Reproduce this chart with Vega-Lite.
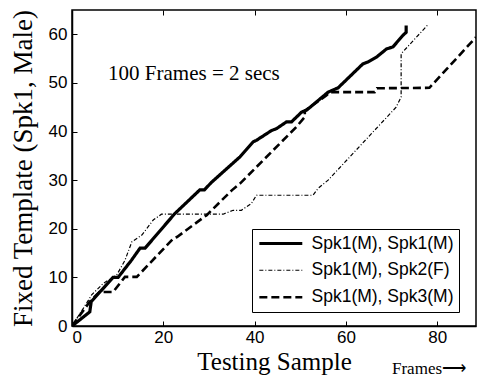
{
  "$schema": "https://vega.github.io/schema/vega-lite/v6.json",
  "width": 404,
  "height": 316,
  "autosize": {"type": "none"},
  "padding": {"left": 72, "top": 10, "right": 1, "bottom": 54},
  "background": "white",
  "config": {
    "view": {"stroke": "black", "strokeWidth": 1.5},
    "axis": {
      "domainColor": "black", "domainWidth": 1.5, "tickColor": "black", "tickSize": -5, "tickWidth": 1,
      "labelFont": "Liberation Sans", "labelFontSize": 17, "labelColor": "black",
      "titleFont": "Liberation Serif", "titleFontSize": 25, "titleFontWeight": "normal", "titleColor": "black",
      "grid": false
    },
    "legend": {
      "title": null, "orient": "none", "legendX": 180, "legendY": 219,
      "symbolType": "M-1,0L5,0", "symbolSize": 205, "symbolStrokeColor": "black", "symbolFillColor": "transparent",
      "labelFont": "Liberation Sans", "labelFontSize": 17.5, "labelColor": "black",
      "strokeColor": "black", "fillColor": "white", "padding": 5.5, "labelOffset": 36, "rowPadding": 8
    }
  },
  "datasets": {
    "curves": [
      {"s": "Spk1(M), Spk1(M)", "x": 0, "y": 0},
      {"s": "Spk1(M), Spk1(M)", "x": 3.9, "y": 2.9},
      {"s": "Spk1(M), Spk1(M)", "x": 4.2, "y": 5},
      {"s": "Spk1(M), Spk1(M)", "x": 9, "y": 10},
      {"s": "Spk1(M), Spk1(M)", "x": 10.1, "y": 10},
      {"s": "Spk1(M), Spk1(M)", "x": 13, "y": 13.5},
      {"s": "Spk1(M), Spk1(M)", "x": 14.9, "y": 16},
      {"s": "Spk1(M), Spk1(M)", "x": 16, "y": 16},
      {"s": "Spk1(M), Spk1(M)", "x": 22.5, "y": 23.1},
      {"s": "Spk1(M), Spk1(M)", "x": 28, "y": 28},
      {"s": "Spk1(M), Spk1(M)", "x": 29, "y": 28},
      {"s": "Spk1(M), Spk1(M)", "x": 30.5, "y": 29.5},
      {"s": "Spk1(M), Spk1(M)", "x": 36.8, "y": 34.8},
      {"s": "Spk1(M), Spk1(M)", "x": 39.7, "y": 37.9},
      {"s": "Spk1(M), Spk1(M)", "x": 40.4, "y": 38.2},
      {"s": "Spk1(M), Spk1(M)", "x": 43.7, "y": 40.2},
      {"s": "Spk1(M), Spk1(M)", "x": 44.8, "y": 40.6},
      {"s": "Spk1(M), Spk1(M)", "x": 47, "y": 42},
      {"s": "Spk1(M), Spk1(M)", "x": 48.1, "y": 42},
      {"s": "Spk1(M), Spk1(M)", "x": 50.3, "y": 44},
      {"s": "Spk1(M), Spk1(M)", "x": 51.4, "y": 44.4},
      {"s": "Spk1(M), Spk1(M)", "x": 56.1, "y": 48.1},
      {"s": "Spk1(M), Spk1(M)", "x": 58.3, "y": 49},
      {"s": "Spk1(M), Spk1(M)", "x": 63.7, "y": 53.9},
      {"s": "Spk1(M), Spk1(M)", "x": 64.8, "y": 54.3},
      {"s": "Spk1(M), Spk1(M)", "x": 66.7, "y": 55.3},
      {"s": "Spk1(M), Spk1(M)", "x": 68.9, "y": 57},
      {"s": "Spk1(M), Spk1(M)", "x": 70.3, "y": 57.4},
      {"s": "Spk1(M), Spk1(M)", "x": 72.5, "y": 59.8},
      {"s": "Spk1(M), Spk1(M)", "x": 73.2, "y": 60.4},
      {"s": "Spk1(M), Spk1(M)", "x": 73.2, "y": 61.8},
      {"s": "Spk1(M), Spk2(F)", "x": 0, "y": 0},
      {"s": "Spk1(M), Spk2(F)", "x": 3.2, "y": 4.7},
      {"s": "Spk1(M), Spk2(F)", "x": 4.3, "y": 6.4},
      {"s": "Spk1(M), Spk2(F)", "x": 6.9, "y": 8.8},
      {"s": "Spk1(M), Spk2(F)", "x": 9.8, "y": 10.5},
      {"s": "Spk1(M), Spk2(F)", "x": 11.6, "y": 13.5},
      {"s": "Spk1(M), Spk2(F)", "x": 13.1, "y": 17.3},
      {"s": "Spk1(M), Spk2(F)", "x": 15.3, "y": 18.7},
      {"s": "Spk1(M), Spk2(F)", "x": 17.8, "y": 21.8},
      {"s": "Spk1(M), Spk2(F)", "x": 19.6, "y": 23},
      {"s": "Spk1(M), Spk2(F)", "x": 33.1, "y": 23},
      {"s": "Spk1(M), Spk2(F)", "x": 35.3, "y": 23.8},
      {"s": "Spk1(M), Spk2(F)", "x": 37.1, "y": 23.8},
      {"s": "Spk1(M), Spk2(F)", "x": 39.3, "y": 25.2},
      {"s": "Spk1(M), Spk2(F)", "x": 40.4, "y": 26.9},
      {"s": "Spk1(M), Spk2(F)", "x": 52.8, "y": 26.9},
      {"s": "Spk1(M), Spk2(F)", "x": 53.9, "y": 28.3},
      {"s": "Spk1(M), Spk2(F)", "x": 56.1, "y": 30},
      {"s": "Spk1(M), Spk2(F)", "x": 71, "y": 45},
      {"s": "Spk1(M), Spk2(F)", "x": 72.1, "y": 47.1},
      {"s": "Spk1(M), Spk2(F)", "x": 72.1, "y": 56},
      {"s": "Spk1(M), Spk2(F)", "x": 78, "y": 62},
      {"s": "Spk1(M), Spk3(M)", "x": 0, "y": 0},
      {"s": "Spk1(M), Spk3(M)", "x": 3.9, "y": 5},
      {"s": "Spk1(M), Spk3(M)", "x": 6, "y": 7},
      {"s": "Spk1(M), Spk3(M)", "x": 9, "y": 7},
      {"s": "Spk1(M), Spk3(M)", "x": 11.6, "y": 10.1},
      {"s": "Spk1(M), Spk3(M)", "x": 14.2, "y": 10.1},
      {"s": "Spk1(M), Spk3(M)", "x": 22.2, "y": 18},
      {"s": "Spk1(M), Spk3(M)", "x": 23, "y": 18.3},
      {"s": "Spk1(M), Spk3(M)", "x": 29.5, "y": 22.8},
      {"s": "Spk1(M), Spk3(M)", "x": 35, "y": 27.9},
      {"s": "Spk1(M), Spk3(M)", "x": 36.8, "y": 29.3},
      {"s": "Spk1(M), Spk3(M)", "x": 49.2, "y": 41},
      {"s": "Spk1(M), Spk3(M)", "x": 51, "y": 43},
      {"s": "Spk1(M), Spk3(M)", "x": 51, "y": 44.3},
      {"s": "Spk1(M), Spk3(M)", "x": 55.7, "y": 47.4},
      {"s": "Spk1(M), Spk3(M)", "x": 56.5, "y": 48.1},
      {"s": "Spk1(M), Spk3(M)", "x": 66.3, "y": 48.1},
      {"s": "Spk1(M), Spk3(M)", "x": 66.8, "y": 48.9},
      {"s": "Spk1(M), Spk3(M)", "x": 78.3, "y": 49},
      {"s": "Spk1(M), Spk3(M)", "x": 88.5, "y": 59.4}
    ],
    "notes": [
      {"x": 7.9, "y": 50.6, "t": "100 Frames = 2 secs", "k": "a"},
      {"x": 70.1, "y": -9.8, "t": "Frames⟶", "k": "b"}
    ]
  },
  "layer": [
    {
      "data": {"name": "curves"},
      "mark": {"type": "line", "color": "black", "clip": true},
      "encoding": {
        "x": {"field": "x", "type": "quantitative", "scale": {"domain": [0, 88.5], "nice": false},
              "axis": {"values": [0, 20, 40, 60, 80], "title": "Testing Sample", "labelPadding": 8, "titlePadding": 4}},
        "y": {"field": "y", "type": "quantitative", "scale": {"domain": [0, 65], "nice": false},
              "axis": {"values": [0, 10, 20, 30, 40, 50, 60], "title": "Fixed Template (Spk1, Male)", "titleFontSize": 27, "labelPadding": 10, "titleX": -41, "titleBaseline": "alphabetic"}},
        "detail": {"field": "s"},
        "strokeDash": {"field": "s", "type": "nominal",
          "scale": {"type": "ordinal", "domain": ["Spk1(M), Spk1(M)", "Spk1(M), Spk2(F)", "Spk1(M), Spk3(M)"], "range": [[1, 0], [4, 2, 1, 2], [8, 4]]}},
        "strokeWidth": {"field": "s", "type": "nominal",
          "scale": {"type": "ordinal", "domain": ["Spk1(M), Spk1(M)", "Spk1(M), Spk2(F)", "Spk1(M), Spk3(M)"], "range": [3.2, 1.2, 2.6]}}
      }
    },
    {
      "data": {"name": "notes"},
      "mark": {"type": "text", "align": "left", "baseline": "alphabetic", "font": "Liberation Serif", "color": "black"},
      "encoding": {
        "x": {"field": "x", "type": "quantitative", "axis": {"orient": "top", "values": [0, 20, 40, 60, 80], "labels": false, "title": null, "domain": false}},
        "y": {"field": "y", "type": "quantitative"},
        "text": {"field": "t"},
        "size": {"field": "k", "type": "nominal", "scale": {"type": "ordinal", "domain": ["a", "b"], "range": [21, 17]}, "legend": null}
      }
    }
  ],
  "resolve": {"axis": {"x": "independent"}}
}
